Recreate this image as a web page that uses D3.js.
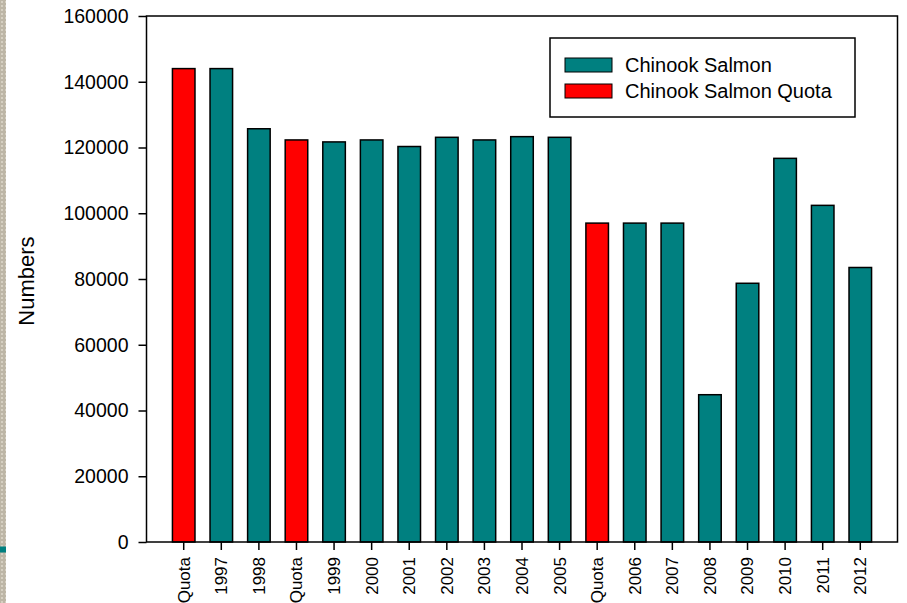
<!DOCTYPE html>
<head>
  <meta charset="utf-8">
  <title>Chinook Salmon</title>
  <script src="https://d3js.org/d3.v7.min.js"></script>
  <style>
    body { margin: 0; background: #fff; }
    text { font-family: 'Liberation Sans', Arial, sans-serif; fill: #000; }
    .y-axis text { font-size: 19.5px; }
    .x-axis text { font-size: 17px; }
    .y-axis path, .x-axis path { display: none; }
    .y-axis line, .x-axis line { stroke: #000; stroke-width: 1.5; }
    .bar { stroke: #000; stroke-width: 1.5; }
    .legend text { font-size: 20px; }
  </style>
</head>

<body>
  <script>
    // data
    var labels = ["Quota", "1997", "1998", "Quota", "1999", "2000", "2001", "2002", "2003", "2004",
                  "2005", "Quota", "2006", "2007", "2008", "2009", "2010", "2011", "2012"];
    var values = [144000, 144000, 125700, 122300, 121700, 122300, 120300, 123100, 122300, 123300,
                  123100, 97000, 97000, 97000, 44800, 78700, 116700, 102400, 83500];
    var isQuota = labels.map(d => d == "Quota");
    var yTicks = [0, 20000, 40000, 60000, 80000, 100000, 120000, 140000, 160000];
    var seriesNames = ["Chinook Salmon", "Chinook Salmon Quota"];
    var colours = ["#008080", "#ff0000"];

    var W = 907, H = 603;
    var plot = {left: 146.5, top: 16, right: 897.5, bottom: 542};

    var svg = d3.select("body").append("svg")
      .attr("width", W)
      .attr("height", H);

    // slide background strip on the left edge
    var defs = svg.append("defs");
    var pat = defs.append("pattern")
      .attr("id", "tex")
      .attr("width", 4).attr("height", 4)
      .attr("patternUnits", "userSpaceOnUse");
    pat.append("rect").attr("width", 4).attr("height", 4).attr("fill", "#bdb6a6");
    pat.append("rect").attr("x", 1).attr("y", 1).attr("width", 2).attr("height", 2).attr("fill", "#d6d0c2");
    svg.append("rect").attr("x", 0).attr("y", 0).attr("width", 6).attr("height", H).attr("fill", "url(#tex)");
    svg.append("rect").attr("x", 0).attr("y", 546.5).attr("width", 6).attr("height", 6).attr("fill", "#008080");

    var x = d3.scaleBand()
      .domain(d3.range(labels.length))
      .range([plot.left, plot.right])
      .paddingInner(0.4)
      .paddingOuter(0.69);

    var y = d3.scaleLinear()
      .domain([0, 160000])
      .range([plot.bottom, plot.top]);

    svg.append("g")
      .attr("class", "y-axis")
      .attr("transform", "translate(" + plot.left + ",0)")
      .call(d3.axisLeft(y).tickValues(yTicks).tickFormat(d3.format("d")).tickSize(8).tickPadding(10));

    var xAxis = svg.append("g")
      .attr("class", "x-axis")
      .attr("transform", "translate(0," + plot.bottom + ")")
      .call(d3.axisBottom(x).tickFormat(i => labels[i]).tickSize(8).tickPadding(0));
    xAxis.selectAll("text")
      .attr("transform", "translate(0,15) rotate(-90)")
      .attr("text-anchor", "end")
      .attr("x", 0)
      .attr("y", 0)
      .attr("dy", "0.35em");

    svg.append("g").selectAll("rect")
      .data(values)
      .enter().append("rect")
        .attr("class", "bar")
        .attr("x", (d, i) => x(i))
        .attr("y", d => y(d))
        .attr("width", x.bandwidth())
        .attr("height", d => y(0) - y(d))
        .attr("fill", (d, i) => isQuota[i] ? colours[1] : colours[0]);

    // frame
    svg.append("rect")
      .attr("x", plot.left).attr("y", plot.top)
      .attr("width", plot.right - plot.left)
      .attr("height", plot.bottom - plot.top)
      .attr("fill", "none")
      .attr("stroke", "#000")
      .attr("stroke-width", 1.5);

    svg.append("text")
      .attr("transform", "translate(34,281) rotate(-90)")
      .attr("text-anchor", "middle")
      .style("font-size", "22px")
      .text("Numbers");

    var legend = svg.append("g").attr("class", "legend");
    legend.append("rect")
      .attr("x", 550).attr("y", 38).attr("width", 305).attr("height", 79)
      .attr("fill", "#fff").attr("stroke", "#000").attr("stroke-width", 1.5);
    var item = legend.selectAll("g.item")
      .data(seriesNames)
      .enter().append("g")
        .attr("class", "item")
        .attr("transform", (d, i) => "translate(565," + (58 + i * 26) + ")");
    item.append("rect")
      .attr("width", 47).attr("height", 14)
      .attr("fill", (d, i) => colours[i])
      .attr("stroke", "#000").attr("stroke-width", 1);
    item.append("text")
      .attr("x", 60).attr("y", 14)
      .text(d => d);
  </script>
</body>
